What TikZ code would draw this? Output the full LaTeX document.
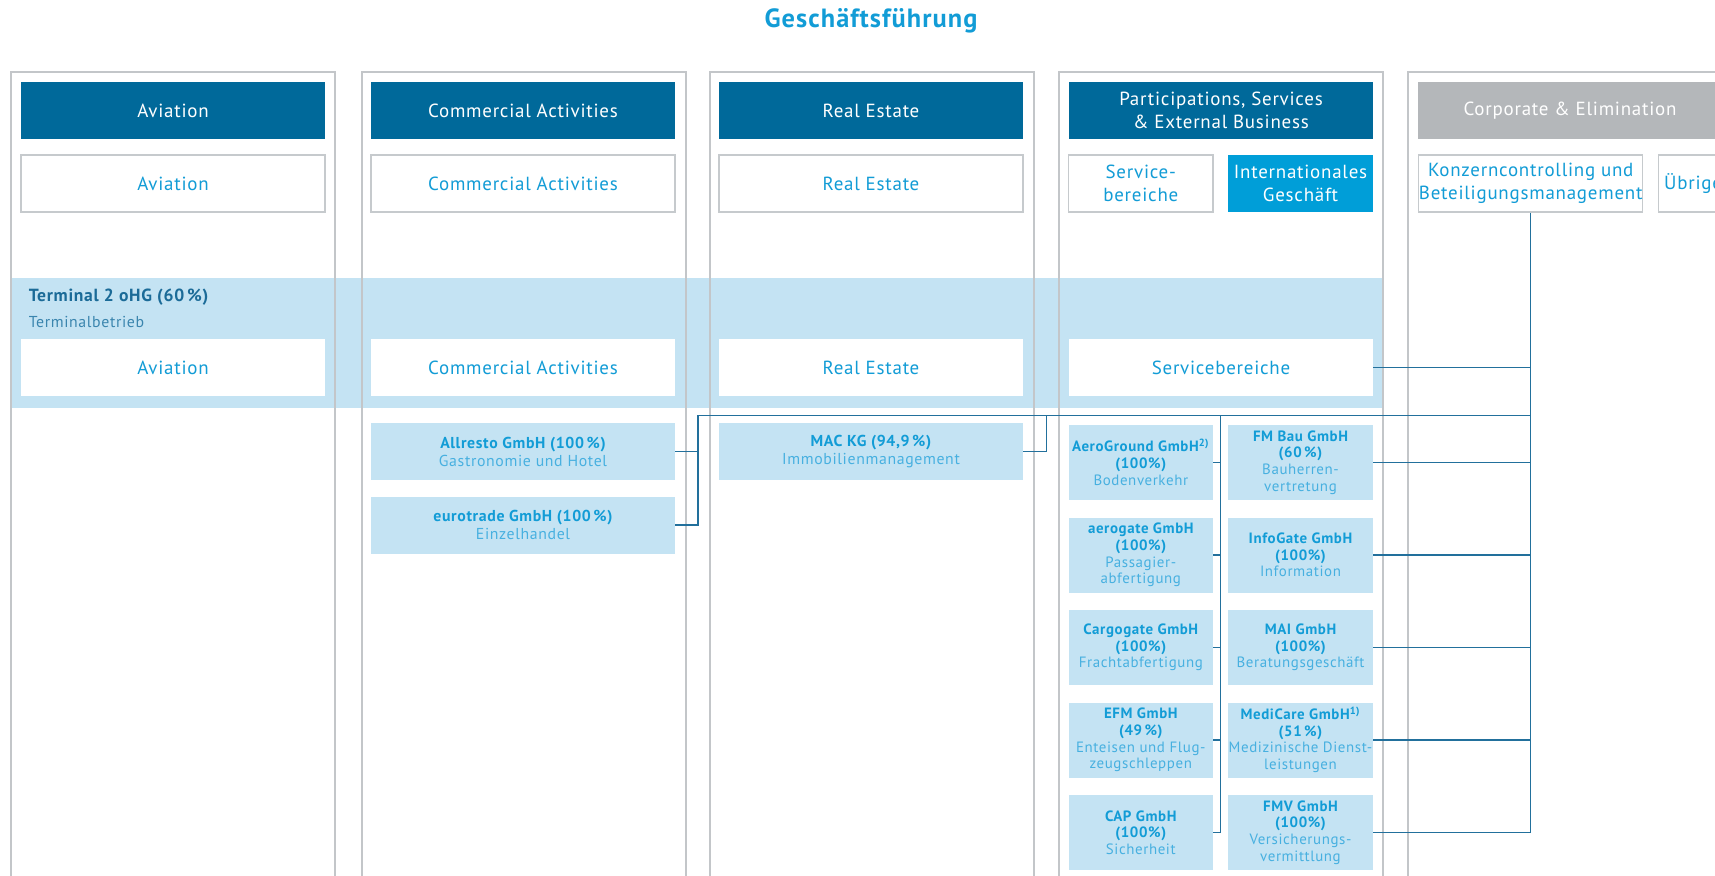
\documentclass[tikz,border=0pt]{standalone}
\usepackage{fontspec}
\setmainfont{PT Sans}[LetterSpace=4]
\usepackage{tikz}
\usetikzlibrary{positioning,calc}
\definecolor{fraDark}{HTML}{00699A}
\definecolor{fraGrey}{HTML}{B4B7BA}
\definecolor{fraCyan}{HTML}{009ED8}
\definecolor{fraText}{HTML}{129CD6}
\definecolor{fraDesc}{HTML}{47B0E0}
\definecolor{fraPale}{HTML}{C4E3F3}
\definecolor{fraLine}{HTML}{22709C}
\definecolor{fraFrame}{HTML}{C3C6C9}
\definecolor{fraBorder}{HTML}{C6CACD}
\definecolor{fraDeep}{HTML}{1B6B98}
\definecolor{fraDeepSub}{HTML}{3A85AE}
\newcommand{\franame}[1]{{\bfseries\color{fraText}#1}}
\tikzset{
  fratitle/.style={text=fraText,inner sep=0pt,font=\fontsize{15}{17}\selectfont\bfseries},
  frahead/.style={fill=fraDark,text=white,minimum width=60.8mm,minimum height=11.4mm,
                  inner sep=0pt,align=center,font=\fontsize{10.8}{13}\selectfont},
  fragrey/.style={frahead,fill=fraGrey},
  frawhite/.style={frahead,fill=white,draw=fraBorder,line width=0.8pt,text=fraText},
  fraintl/.style={frahead,fill=fraCyan,minimum width=28.9mm},
  fraplain/.style={frahead,fill=white,text=fraText},
  fraterm/.style={inner sep=0pt,text=fraDeep,font=\fontsize{10}{12}\selectfont\bfseries},
  fratermsub/.style={inner sep=0pt,text=fraDeepSub,font=\fontsize{9}{11}\selectfont},
  frasub/.style={fill=fraPale,text=fraDesc,minimum width=60.8mm,minimum height=11.4mm,
                 inner sep=0pt,align=center,font=\fontsize{9}{10}\selectfont},
  frasmall/.style={frasub,minimum width=28.9mm,minimum height=15mm,
                   font=\fontsize{8.5}{9.5}\selectfont},
  fraframe/.style={draw=fraFrame,line width=0.6pt},
  fraline/.style={draw=fraLine,line width=0.85pt},
}
\begin{document}
\begin{tikzpicture}[x=0.2mm,y=-0.2mm]
  \useasboundingbox (0,0) rectangle (1715,876);
  \clip (0,0) rectangle (1715,876);

  \node[fratitle] (gf) at (871,21) {Geschäftsführung};

  % Terminal 2 joint venture band, behind the columns.
  \fill[fraPale] (11,277.8) rectangle (1383,408);

  % Column frames, open at the bottom.
  \draw[fraframe] (11,900) -- (11,72) -- (335,72) -- (335,900);
  \draw[fraframe] (362,900) -- (362,72) -- (686,72) -- (686,900);
  \draw[fraframe] (710,900) -- (710,72) -- (1034,72) -- (1034,900);
  \draw[fraframe] (1059,900) -- (1059,72) -- (1383,72) -- (1383,900);
  \draw[fraframe] (1408,900) -- (1408,72) -- (1732,72) -- (1732,900);

  % Segments.
  \node[frahead] (hav) at (173,110.5) {Aviation};
  \node[frahead] (hca) at (523,110.5) {Commercial Activities};
  \node[frahead] (hre) at (871,110.5) {Real Estate};
  \node[frahead] (hps) at (1221,110.5) {Participations, Services\\\& External Business};
  \node[fragrey] (hce) at (1570,110.5) {Corporate \& Elimination};

  % Business units.
  \node[frawhite] (uav) at (173,183.7) {Aviation};
  \node[frawhite] (uca) at (523,183.7) {Commercial Activities};
  \node[frawhite] (ure) at (871,183.7) {Real Estate};
  \node[frawhite,minimum width=28.9mm] (usv) at (1140.8,183.7) {Service-\\bereiche};
  \node[fraintl] (uin) at (1300.5,183.7) {Internationales\\Geschäft};
  \node[frawhite,minimum width=44.8mm] (ctrl) at (1530.7,183.7) {Konzerncontrolling und\\Beteiligungsmanagement};
  \node[frawhite,anchor=west,minimum width=44.8mm,text width=42.6mm,align=left,inner xsep=1.1mm]
       (ueb) at (1658,183.7) {Übrige};

  % Terminal 2 oHG.
  \node[fraterm,anchor=west] (term) at (28.4,297.5) {Terminal 2 oHG (60\,\%)};
  \node[fratermsub,anchor=west] (termsub) at (28.4,321.6) {Terminalbetrieb};
  \node[fraplain] (tav) at (173,367.5) {Aviation};
  \node[fraplain] (tca) at (523,367.5) {Commercial Activities};
  \node[fraplain] (tre) at (871,367.5) {Real Estate};
  \node[fraplain] (tsv) at (1221,367.5) {Servicebereiche};

  % Subsidiaries.
  \node[frasub] (allresto) at (523,451.7) {\franame{Allresto GmbH (100\,\%)}\\Gastronomie und Hotel};
  \node[frasub] (eurotrade) at (523,525) {\franame{eurotrade GmbH (100\,\%)}\\Einzelhandel};
  \node[frasub] (mac) at (871,451.7) {\franame{MAC KG (94,9\,\%)}\\Immobilienmanagement};

  \node[frasmall] (aero) at (1140.8,462.5) {\franame{AeroGround GmbH\textsuperscript{2)}}\\\franame{(100\%)}\\Bodenverkehr};
  \node[frasmall] (aerogate) at (1140.8,555) {\franame{aerogate GmbH}\\\franame{(100\%)}\\Passagier-\\abfertigung};
  \node[frasmall] (cargo) at (1140.8,647.5) {\franame{Cargogate GmbH}\\\franame{(100\%)}\\Frachtabfertigung};
  \node[frasmall] (efm) at (1140.8,740) {\franame{EFM GmbH}\\\franame{(49\,\%)}\\Enteisen und Flug-\\zeugschleppen};
  \node[frasmall] (cap) at (1140.8,832.5) {\franame{CAP GmbH}\\\franame{(100\%)}\\Sicherheit};

  \node[frasmall] (fmbau) at (1300.5,462.5) {\franame{FM Bau GmbH}\\\franame{(60\,\%)}\\Bauherren-\\vertretung};
  \node[frasmall] (infogate) at (1300.5,555) {\franame{InfoGate GmbH}\\\franame{(100\%)}\\Information};
  \node[frasmall] (mai) at (1300.5,647.5) {\franame{MAI GmbH}\\\franame{(100\%)}\\Beratungsgeschäft};
  \node[frasmall] (medicare) at (1300.5,740) {\franame{MediCare GmbH\textsuperscript{1)}}\\\franame{(51\,\%)}\\Medizinische Dienst-\\leistungen};
  \node[frasmall] (fmv) at (1300.5,832.5) {\franame{FMV GmbH}\\\franame{(100\%)}\\Versicherungs-\\vermittlung};

  % Holding lines up to Konzerncontrolling.
  \coordinate (busL) at (698,415.6);
  \coordinate (busM) at (1046.5,415.6);
  \coordinate (busS) at (1220.5,415.6);
  \draw[fraline] (ctrl.south) -- (ctrl.south |- fmv.east);
  \draw[fraline] (tsv.east) -- (tsv.east -| ctrl.south);
  \draw[fraline] (allresto.east) -- (allresto.east -| busL);
  \draw[fraline] (eurotrade.east) -| (busL) -- (busL -| ctrl.south);
  \draw[fraline] (mac.east) -| (busM);
  \draw[fraline] (busS) -- (busS |- cap.east);
  \draw[fraline] (aero.east) -- (aero.east -| busS);
  \draw[fraline] (aerogate.east) -- (aerogate.east -| busS);
  \draw[fraline] (cargo.east) -- (cargo.east -| busS);
  \draw[fraline] (efm.east) -- (efm.east -| busS);
  \draw[fraline] (cap.east) -- (cap.east -| busS);
  \draw[fraline] (fmbau.east) -- (fmbau.east -| ctrl.south);
  \draw[fraline] (infogate.east) -- (infogate.east -| ctrl.south);
  \draw[fraline] (mai.east) -- (mai.east -| ctrl.south);
  \draw[fraline] (medicare.east) -- (medicare.east -| ctrl.south);
  \draw[fraline] (fmv.east) -- (fmv.east -| ctrl.south);
\end{tikzpicture}
\end{document}
